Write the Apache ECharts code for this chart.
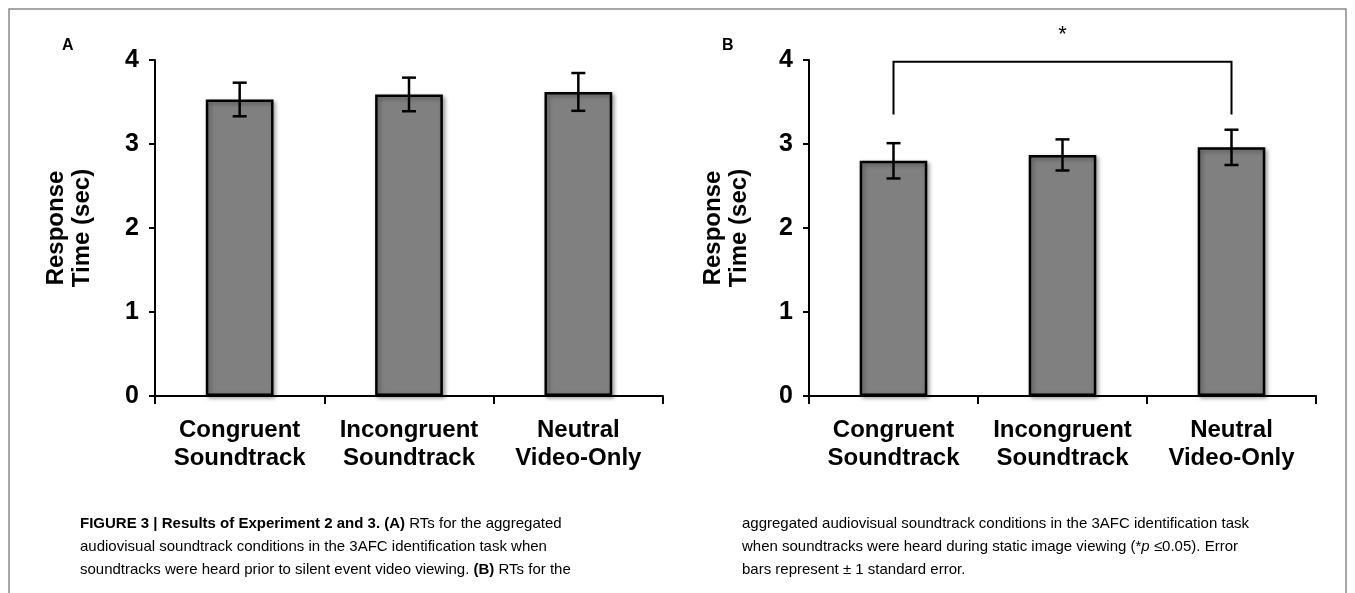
<!DOCTYPE html>
<html>
<head>
<meta charset="utf-8">
<script src="https://cdn.jsdelivr.net/npm/echarts@6/dist/echarts.min.js"></script>
<style>
html,body{margin:0;padding:0;background:#fff;}
#chart{width:1355px;height:593px;}
</style>
</head>
<body>
<div id="chart"></div>
<script>
const categories = ['Congruent\nSoundtrack', 'Incongruent\nSoundtrack', 'Neutral\nVideo-Only'];
const yTicks = [0, 1, 2, 3, 4];
const meansA = [3.53, 3.59, 3.62];
const errA = [0.20, 0.20, 0.225];
const meansB = [2.80, 2.87, 2.96];
const errB = [0.21, 0.185, 0.21];
// significance bracket in panel B: [fromCategory, toCategory, topValue, legBottomValue]
const bracketB = [[0, 2, 3.98, 3.35]];
const sigLabel = '*';

const FONT = 'Liberation Sans, Arial, sans-serif';
const chart = echarts.init(document.getElementById('chart'));

function xAxisFor(gi) {
  return {
    type: 'category', gridIndex: gi, data: categories,
    axisLine: { lineStyle: { color: '#000', width: 2 } },
    axisTick: { show: true, alignWithLabel: false, length: 8, lineStyle: { color: '#000', width: 2 } },
    axisLabel: { color: '#000', fontFamily: FONT, fontWeight: 'bold', fontSize: 24, lineHeight: 28, margin: 20, interval: 0 }
  };
}
function yAxisFor(gi, gap) {
  return {
    type: 'value', gridIndex: gi, min: yTicks[0], max: yTicks[yTicks.length - 1], interval: 1,
    name: 'Response\nTime (sec)', nameLocation: 'middle', nameRotate: 90, nameGap: gap,
    nameTextStyle: { color: '#000', fontFamily: FONT, fontWeight: 'bold', fontSize: 24, lineHeight: 26 },
    axisLine: { show: true, lineStyle: { color: '#000', width: 2 } },
    axisTick: { show: true, length: 6, lineStyle: { color: '#000', width: 2 } },
    axisLabel: { color: '#000', fontFamily: FONT, fontWeight: 'bold', fontSize: 25, margin: 16 },
    splitLine: { show: false }
  };
}
function barSeries(gi, data) {
  return {
    type: 'bar', xAxisIndex: gi, yAxisIndex: gi, data: data, barWidth: '40%',
    itemStyle: { color: '#808080', borderColor: '#000', borderWidth: 2.5,
      shadowBlur: 4, shadowColor: 'rgba(0,0,0,0.35)', shadowOffsetX: 2, shadowOffsetY: 2 },
    silent: true
  };
}
function errSeries(gi, means, errs) {
  return {
    type: 'custom', xAxisIndex: gi, yAxisIndex: gi, silent: true, z: 5,
    data: means.map((m, i) => [i, m - errs[i], m + errs[i]]),
    renderItem: function (params, api) {
      const lo = api.coord([api.value(0), api.value(1)]);
      const hi = api.coord([api.value(0), api.value(2)]);
      const hw = 7;
      const st = { stroke: '#000', lineWidth: 2.5 };
      return { type: 'group', children: [
        { type: 'line', shape: { x1: hi[0], y1: hi[1], x2: lo[0], y2: lo[1] }, style: st },
        { type: 'line', shape: { x1: hi[0] - hw, y1: hi[1], x2: hi[0] + hw, y2: hi[1] }, style: st },
        { type: 'line', shape: { x1: lo[0] - hw, y1: lo[1], x2: lo[0] + hw, y2: lo[1] }, style: st }
      ]};
    }
  };
}
const bracketSeries = {
  type: 'custom', xAxisIndex: 1, yAxisIndex: 1, silent: true, z: 5, clip: false,
  data: bracketB,
  renderItem: function (params, api) {
    const a = api.coord([api.value(0), api.value(3)]);
    const b = api.coord([api.value(0), api.value(2)]);
    const c = api.coord([api.value(1), api.value(2)]);
    const d = api.coord([api.value(1), api.value(3)]);
    const mx = (b[0] + c[0]) / 2;
    return { type: 'group', children: [
      { type: 'polyline', shape: { points: [a, b, c, d] }, style: { stroke: '#000', lineWidth: 2, fill: null } },
      { type: 'text', x: mx, y: b[1] - 27, style: { text: sigLabel, fill: '#000', font: '22px ' + FONT, align: 'center', verticalAlign: 'middle' } }
    ]};
  }
};

const capFont = 'Liberation Sans, Arial, Helvetica, sans-serif';
const capRich = {
  b: { fontFamily: capFont, fontWeight: 'bold', fontSize: 15, color: '#231f20' },
  n: { fontFamily: capFont, fontSize: 15, color: '#231f20' },
  i: { fontFamily: capFont, fontStyle: 'italic', fontSize: 15, color: '#231f20' }
};

chart.setOption({
  animation: false,
  backgroundColor: '#fff',
  grid: [
    { left: 155, top: 60, width: 508, height: 336 },
    { left: 809, top: 60, width: 507, height: 336 }
  ],
  xAxis: [xAxisFor(0), xAxisFor(1)],
  yAxis: [yAxisFor(0, 60), yAxisFor(1, 57)],
  series: [
    barSeries(0, meansA), errSeries(0, meansA, errA),
    barSeries(1, meansB), errSeries(1, meansB, errB),
    bracketSeries
  ],
  graphic: [
    { type: 'polyline', shape: { points: [[9, 600], [9, 9], [1346, 9], [1346, 600]] }, style: { stroke: '#8a8a8a', lineWidth: 1.5, fill: null }, silent: true },
    { type: 'text', left: 62, top: 38, style: { text: 'A', font: 'bold 16px ' + FONT, fill: '#000' } },
    { type: 'text', left: 722, top: 38, style: { text: 'B', font: 'bold 16px ' + FONT, fill: '#000' } },
    { type: 'text', left: 80, top: 512, style: {
      text: '{b|FIGURE 3 | Results of Experiment 2 and 3. (A)}{n| RTs for the aggregated}\n{n|audiovisual soundtrack conditions in the 3AFC identification task when}\n{n|soundtracks were heard prior to silent event video viewing. }{b|(B)}{n| RTs for the}',
      lineHeight: 23, rich: capRich } },
    { type: 'text', left: 742, top: 512, style: {
      text: '{n|aggregated audiovisual soundtrack conditions in the 3AFC identification task}\n{n|when soundtracks were heard during static image viewing (*}{i|p}{n| ≤0.05). Error}\n{n|bars represent ± 1 standard error.}',
      lineHeight: 23, rich: capRich } }
  ]
});
</script>
</body>
</html>
